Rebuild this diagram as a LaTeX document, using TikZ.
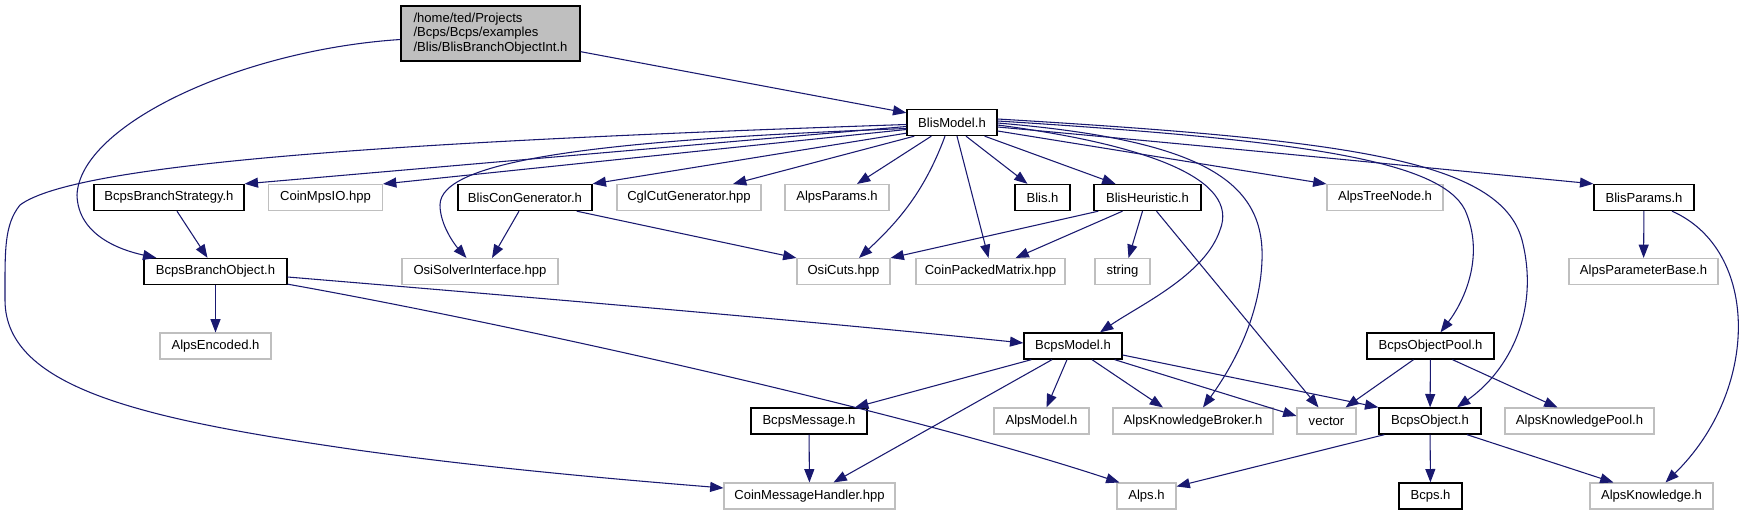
\documentclass[tikz,border=0pt]{standalone}
\usepackage{fontspec}
\setmainfont{Liberation Sans}
\usetikzlibrary{arrows.meta,calc}
\definecolor{edgec}{HTML}{191970}
\definecolor{grayb}{HTML}{BFBFBF}
\begin{document}
\begin{tikzpicture}[x=0.75pt,y=-0.75pt,
  nd/.style={inner sep=0pt, minimum height=19.5pt, font=\fontsize{9.8}{11.5}\selectfont},
  doc/.style={nd, draw=black, line width=1pt, fill=white},
  ext/.style={nd, draw=grayb, line width=0.8pt, fill=white},
  bw/.style={minimum width=#1*0.75pt},
  e/.style={draw=edgec, line width=0.8pt, -{Triangle[length=10pt,width=7.5pt]}}]
\fill[white] (0,0) rectangle (1748,515);
\useasboundingbox (0,0) rectangle (1748,515);
% row 0
\node[doc, fill=grayb, bw=179, minimum height=41.25pt, align=left, font=\fontsize{9.8}{10.9}\selectfont] (root) at (490.5,33.5) {/home/ted/Projects\\/Bcps/Bcps/examples\\/Blis/BlisBranchObjectInt.h};
% row 1
\node[doc, bw=90] (blismodel) at (952,122.5) {BlisModel.h};
% row 2
\node[doc, bw=150] (bcpsstrat) at (169,197.5) {BcpsBranchStrategy.h};
\node[ext, bw=114] (coinmpsio) at (325.5,197.5) {CoinMpsIO.hpp};
\node[doc, bw=134] (bliscon) at (525,197.5) {BlisConGenerator.h};
\node[ext, bw=144] (cglcut) at (689,197.5) {CglCutGenerator.hpp};
\node[ext, bw=104] (alpsparams) at (837,197.5) {AlpsParams.h};
\node[doc, bw=55] (blish) at (1042.5,197.5) {Blis.h};
\node[doc, bw=107] (blisheur) at (1147.5,197.5) {BlisHeuristic.h};
\node[ext, bw=116] (alpstree) at (1385,197.5) {AlpsTreeNode.h};
\node[doc, bw=100] (blisparams) at (1644,197.5) {BlisParams.h};
% row 3
\node[doc, bw=143] (bcpsbo) at (215.5,271.5) {BcpsBranchObject.h};
\node[ext, bw=156] (osisolver) at (480,271.5) {OsiSolverInterface.hpp};
\node[ext, bw=93] (osicuts) at (843.5,271.5) {OsiCuts.hpp};
\node[ext, bw=149] (coinpacked) at (990.5,271.5) {CoinPackedMatrix.hpp};
\node[ext, bw=55] (strg) at (1122.5,271.5) {string};
\node[ext, bw=149] (alpspbase) at (1643.5,271.5) {AlpsParameterBase.h};
% row 4
\node[ext, bw=111] (alpsenc) at (215.5,346) {AlpsEncoded.h};
\node[doc, bw=98] (bcpsmodel) at (1073,346) {BcpsModel.h};
\node[doc, bw=127] (objpool) at (1430.5,346) {BcpsObjectPool.h};
% row 5
\node[doc, bw=116] (bcpsmsg) at (809,421) {BcpsMessage.h};
\node[ext, bw=95] (alpsmodel) at (1041.5,421) {AlpsModel.h};
\node[ext, bw=160] (broker) at (1193,421) {AlpsKnowledgeBroker.h};
\node[ext, bw=59] (vect) at (1326.5,421) {vector};
\node[doc, bw=102] (bcpsobj) at (1430,421) {BcpsObject.h};
\node[ext, bw=149] (knowpool) at (1579.5,421) {AlpsKnowledgePool.h};
% row 6
\node[ext, bw=171] (coinmsg) at (809.5,496) {CoinMessageHandler.hpp};
\node[ext, bw=59] (alps) at (1146.5,496) {Alps.h};
\node[doc, bw=63] (bcps) at (1430.5,496) {Bcps.h};
\node[ext, bw=123] (alpsknow) at (1651.5,496) {AlpsKnowledge.h};
% edges from root
\draw[e] ($(root.south east)+(0,-10)$) -- ($(blismodel.north west)+(0,4)$);
\draw[e] ($(root.west)+(0,6)$) .. controls (240,50) and (80,125) .. (77,195) .. controls (78,235) and (120,250) .. ($(bcpsbo.north west)+(13,0)$);
% edges from BlisModel
\draw[e] ($(blismodel.west)+(0,4)$) -- (bcpsstrat.north east);
\draw[e] ($(blismodel.west)+(0,7)$) -- (coinmpsio.north east);
\draw[e] ($(blismodel.west)+(0,6)$) .. controls (600,140) and (440,160) .. (440,205) .. controls (440,225) and (455,245) .. ($(osisolver.north west)+(65,0)$);
\draw[e] ($(blismodel.west)+(0,2)$) .. controls (450,140) and (80,160) .. (20,205) .. controls (4,225) and (5,250) .. (5,300) .. controls (5,390) and (150,420) .. (357,450) .. controls (500,470) and (650,482) .. ($(coinmsg.west)+(0,-8)$);
\draw[e] ($(blismodel.south west)+(0,-3)$) -- (bliscon.north east);
\draw[e] ($(blismodel.south west)+(8,0)$) -- ($(cglcut.north)+(44,0)$);
\draw[e] ($(blismodel.south west)+(25,0)$) -- ($(alpsparams.north)+(20,0)$);
\draw[e] ($(blismodel.south)+(-7,0)$) .. controls (925,190) and (900,220) .. ($(osicuts.north)+(15.5,0)$);
\draw[e] ($(blismodel.south)+(5,0)$) -- ($(coinpacked.north)+(-2,0)$);
\draw[e] ($(blismodel.south)+(14,0)$) -- ($(blish.north)+(-15,0)$);
\draw[e] ($(blismodel.south east)+(-13,0)$) -- ($(blisheur.north)+(-32,0)$);
\draw[e] ($(blismodel.east)+(0,8.5)$) -- (alpstree.north west);
\draw[e] ($(blismodel.east)+(0,4.5)$) .. controls (1250,150) and (1450,170) .. (blisparams.north west);
\draw[e] ($(blismodel.east)+(0,2.5)$) .. controls (1150,145) and (1240,180) .. (1220,230) .. controls (1205,275) and (1140,305) .. ($(bcpsmodel.north)+(27,0)$);
\draw[e] ($(blismodel.east)+(0,0.5)$) .. controls (1200,140) and (1265,180) .. (1262,260) .. controls (1260,320) and (1230,370) .. ($(broker.north)+(10,0)$);
\draw[e] ($(blismodel.east)+(0,-1.5)$) .. controls (1300,140) and (1440,160) .. (1465,210) .. controls (1485,255) and (1465,300) .. ($(objpool.north)+(10,0)$);
\draw[e] ($(blismodel.east)+(0,-3.5)$) .. controls (1350,140) and (1500,160) .. (1522,240) .. controls (1540,310) and (1510,370) .. ($(bcpsobj.north)+(27,0)$);
% row 2 sources
\draw[e] ($(bcpsstrat.south)+(8,0)$) -- ($(bcpsbo.north)+(-8,0)$);
\draw[e] ($(bliscon.south)+(-6,0)$) -- ($(osisolver.north)+(12,0)$);
\draw[e] ($(bliscon.south east)+(-16,0)$) -- (osicuts.north west);
\draw[e] ($(blisheur.south west)+(5,0)$) -- (osicuts.north east);
\draw[e] ($(blisheur.south)+(-25,0)$) -- ($(coinpacked.north)+(25,0)$);
\draw[e] ($(blisheur.south)+(-5,0)$) -- ($(strg.north)+(6,0)$);
\draw[e] ($(blisheur.south)+(9,0)$) -- ($(vect.north)+(-8,0)$);
\draw[e] (blisparams) -- (alpspbase);
\draw[e] ($(blisparams.south)+(28,0)$) .. controls (1760,250) and (1760,390) .. ($(alpsknow.north)+(14,0)$);
% row 3 sources
\draw[e] (bcpsbo) -- (alpsenc);
\draw[e] ($(bcpsbo.east)+(0,5.5)$) .. controls (600,303) and (850,325) .. ($(bcpsmodel.west)+(0,-3)$);
\draw[e] ($(bcpsbo.south east)+(0,-1)$) .. controls (500,322) and (900,410) .. ($(alps.north west)+(3,0)$);
% row 4 sources
\draw[e] ($(bcpsmodel.south west)+(8,0)$) -- ($(bcpsmsg.north)+(46,0)$);
\draw[e] ($(bcpsmodel.south)+(-21,0)$) -- ($(coinmsg.north)+(24,0)$);
\draw[e] ($(bcpsmodel.south)+(-6,0)$) -- ($(alpsmodel.north)+(5,0)$);
\draw[e] ($(bcpsmodel.south)+(19,0)$) -- ($(broker.north)+(-30,0)$);
\draw[e] ($(bcpsmodel.south east)+(-8,0)$) -- ($(vect.west)+(0,-5)$);
\draw[e] ($(bcpsmodel.east)+(0,9)$) -- (bcpsobj.north west);
\draw[e] ($(objpool.south)+(-17,0)$) -- ($(vect.north)+(19,0)$);
\draw[e] (objpool) -- (bcpsobj);
\draw[e] ($(objpool.south)+(22,0)$) -- ($(knowpool.north)+(-22,0)$);
% row 5 sources
\draw[e] (bcpsmsg) -- (coinmsg);
\draw[e] ($(bcpsobj.south west)+(6,0)$) -- ($(alps.north east)+(0,4)$);
\draw[e] (bcpsobj) -- (bcps);
\draw[e] ($(bcpsobj.south)+(37,0)$) -- ($(alpsknow.north)+(-38,0)$);
\end{tikzpicture}
\end{document}
